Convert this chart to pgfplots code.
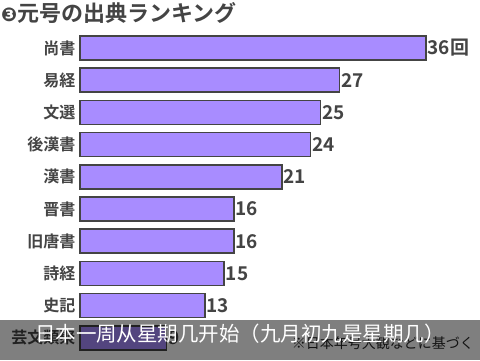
\documentclass[border=0pt]{standalone}
\usepackage{pgfplots}
\pgfplotsset{compat=1.18}
\usepackage{pgfplotstable}
\usepackage{fontspec}
\newfontfamily\jpfont{Noto Sans CJK JP}[BoldFont=* Bold]
\newfontfamily\scfont{Noto Sans CJK SC}
\newfontfamily\dvfont{DejaVu Sans}
\definecolor{barfill}{RGB}{168,140,255}
\definecolor{txt}{RGB}{68,68,68}
\pgfplotstableread{
i v lab
0 36 36回
1 27 27
2 25 25
3 24 24
4 21 21
5 16 16
6 16 16
7 15 15
8 13 13
9 9 9
}\data
\begin{document}
\begin{tikzpicture}[x=1pt,y=1pt]
\fill[white] (0,0) rectangle (480,360);
\begin{axis}[
  at={(80pt,6.1pt)}, anchor=south west,
  scale only axis, width=346pt, height=322pt,
  xmin=0, xmax=36, ymin=-0.5, ymax=9.5, y dir=reverse,
  axis line style={draw=none}, major tick length=0pt, clip=false,
  xtick=\empty,
  ytick={0,...,9},
  yticklabels={尚書,易経,文選,後漢書,漢書,晋書,旧唐書,詩経,史記,芸文類聚},
  yticklabel style={font=\jpfont\bfseries\fontsize{16}{16}\selectfont, text=txt, anchor=east, xshift=-1pt},
]
\addplot[xbar, bar width=24pt, fill=barfill, draw=txt, line width=1.5pt,
  point meta=explicit symbolic,
  nodes near coords,
  nodes near coords style={font=\jpfont\bfseries\fontsize{19}{19}\selectfont, text=txt, anchor=west, xshift=-1pt, inner sep=2pt}]
  table[x=v, y=i, meta=lab]{\data};
\end{axis}
\node[anchor=west, text=txt, inner sep=0pt] at (1,347) {{\dvfont\bfseries\fontsize{19}{19}\selectfont ❸}{\jpfont\bfseries\fontsize{22}{22}\selectfont 元号の出典ランキング}};
\node[anchor=east, text=black!85, inner sep=0pt] at (474,17) {\jpfont\fontsize{14}{14}\selectfont ※日本年号大観などに基づく};
\fill[black, opacity=0.5] (0,0) rectangle (480,40);
\node[text=white, inner sep=0pt] at (240,26) {\scfont\fontsize{20.5}{20.5}\selectfont 日本一周从星期几开始（九月初九是星期几）};
\end{tikzpicture}
\end{document}
